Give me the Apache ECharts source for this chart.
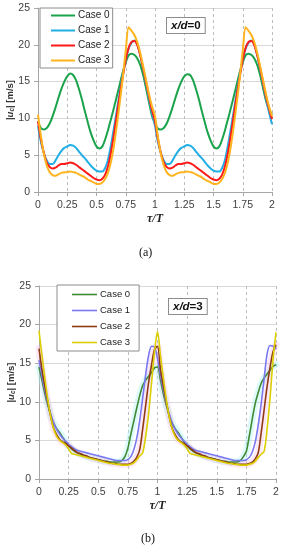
<!DOCTYPE html>
<html><head><meta charset="utf-8">
<script src="https://cdn.jsdelivr.net/npm/echarts@6/dist/echarts.min.js"></script>
<style>html,body{margin:0;padding:0;background:#fff;width:282px;height:550px;overflow:hidden}
#ca{position:absolute;left:0;top:0;width:282px;height:275px}
#cb{position:absolute;left:0;top:275px;width:282px;height:275px}</style>
</head><body><div id="ca"></div><div id="cb"></div>
<script>
// sampling grid tau/T
var tau = [0,0.025,0.05,0.075,0.1,0.125,0.15,0.175,0.2,0.225,0.25,0.275,0.3,0.325,0.35,0.375,0.4,0.425,0.45,0.475,0.5,0.525,0.55,0.575,0.6,0.625,0.65,0.675,0.7,0.725,0.75,0.775,0.8,0.825,0.85,0.875,0.9,0.925,0.95,0.975,1.0,
1.025,1.05,1.075,1.1,1.125,1.15,1.175,1.2,1.225,1.25,1.275,1.3,1.325,1.35,1.375,1.4,1.425,1.45,1.475,1.5,1.525,1.55,1.575,1.6,1.625,1.65,1.675,1.7,1.725,1.75,1.775,1.8,1.825,1.85,1.875,1.9,1.925,1.95,1.975,2.0];
var xTicks = [0,0.25,0.5,0.75,1,1.25,1.5,1.75,2];
var yTicksA = [0,5,10,15,20,25];
var yTicksB = [0,5,10,15,20,25];
var caseNames = ['Case 0','Case 1','Case 2','Case 3'];

// (a) x/d=0
var a_case0 = [9.6,8.7,8.5,8.7,9.3,10.3,11.5,12.8,14.0,15.0,15.7,16.1,15.9,15.2,14.0,12.6,11.0,9.5,8.1,7.0,6.2,5.9,6.2,7.2,8.5,10.0,11.5,13.1,14.7,16.3,17.6,18.6,18.8,18.6,18.1,17.2,15.8,14.0,12.1,10.3,9.3,
8.6,8.5,8.7,9.3,10.3,11.5,12.8,14.0,15.0,15.7,16.0,15.9,15.2,14.0,12.6,11.0,9.5,8.1,7.0,6.2,5.9,6.2,7.2,8.5,10.0,11.5,13.1,14.7,16.3,17.6,18.6,18.8,18.6,18.1,17.2,15.8,14.0,12.3,11.2,10.5];
var a_case1 = [9.0,6.8,5.3,4.3,3.8,3.8,4.3,5.0,5.6,6.0,6.2,6.4,6.3,6.0,5.5,5.0,4.6,4.1,3.6,3.2,2.9,2.8,2.8,3.3,4.5,6.5,8.8,11.2,13.6,16.0,18.0,19.5,20.3,20.6,20.0,18.5,16.6,14.6,12.6,10.7,9.0,
6.8,5.3,4.3,3.8,3.8,4.3,5.0,5.6,6.0,6.2,6.4,6.3,6.0,5.5,5.0,4.6,4.1,3.6,3.2,2.9,2.8,2.8,3.3,4.5,6.5,8.8,11.2,13.6,16.0,18.0,19.5,20.3,20.6,20.0,18.5,16.6,14.6,12.6,10.8,9.2];
var a_case2 = [9.6,7.2,5.3,4.0,3.4,3.2,3.3,3.6,3.8,3.8,3.9,4.0,3.9,3.7,3.4,3.1,2.8,2.5,2.2,1.9,1.7,1.6,1.8,2.4,3.6,5.5,7.9,10.6,13.3,15.7,18.0,19.6,20.4,20.5,19.9,18.5,16.7,14.8,12.9,11.1,9.6,
7.2,5.3,4.0,3.4,3.2,3.3,3.6,3.8,3.8,3.9,4.0,3.9,3.7,3.4,3.1,2.8,2.5,2.2,1.9,1.7,1.6,1.8,2.4,3.6,5.5,7.9,10.6,13.3,15.7,18.0,19.6,20.4,20.5,19.9,18.5,16.7,14.8,12.9,11.3,9.9];
var a_case3 = [10.5,7.6,5.2,3.6,2.7,2.3,2.2,2.4,2.6,2.7,2.7,2.8,2.7,2.6,2.4,2.2,2.0,1.7,1.5,1.3,1.1,1.1,1.3,1.8,2.7,4.2,6.4,9.2,12.3,15.6,19.2,22.4,21.9,21.3,20.3,18.8,17.0,15.1,13.2,11.6,10.3,
7.5,5.2,3.6,2.7,2.3,2.2,2.4,2.6,2.7,2.7,2.8,2.7,2.6,2.4,2.2,2.0,1.7,1.5,1.3,1.1,1.1,1.3,1.8,2.7,4.2,6.4,9.2,12.3,15.6,19.2,22.4,21.9,21.3,20.3,18.8,17.0,15.1,13.2,11.6,10.3];

// (b) x/d=3
var b_case0 = [14.5,12.8,11.0,9.5,8.2,7.2,6.5,6.0,5.4,4.8,4.3,3.9,3.6,3.4,3.2,3.0,2.9,2.8,2.7,2.6,2.5,2.4,2.3,2.3,2.2,2.2,2.2,2.2,2.4,2.9,4.0,5.8,7.5,9.2,10.8,12.1,12.8,13.3,13.8,14.4,14.5,
12.8,11.0,9.5,8.2,7.2,6.5,6.0,5.4,4.8,4.3,3.9,3.6,3.4,3.2,3.0,2.9,2.8,2.7,2.6,2.5,2.4,2.3,2.3,2.2,2.2,2.2,2.2,2.4,2.9,3.6,5.6,7.8,9.8,11.2,12.4,13.1,13.6,14.1,14.6,14.8];
var b_case1 = [15.4,13.4,11.5,9.8,8.4,7.2,6.4,5.8,5.3,4.9,4.5,4.2,3.9,3.7,3.6,3.5,3.4,3.3,3.2,3.1,3.0,2.9,2.8,2.7,2.6,2.5,2.4,2.4,2.4,2.4,2.5,2.9,3.8,5.3,7.6,10.5,13.5,16.0,17.2,17.1,15.6,
13.4,11.5,9.8,8.4,7.2,6.4,5.8,5.3,4.9,4.5,4.2,3.9,3.7,3.6,3.5,3.4,3.3,3.2,3.1,3.0,2.9,2.8,2.7,2.6,2.5,2.4,2.4,2.4,2.4,2.5,2.8,3.5,4.8,7.0,9.8,13.0,16.2,17.3,17.2,16.8];
var b_case2 = [16.9,14.2,12.0,10.0,8.0,6.5,5.7,5.1,4.8,4.6,4.3,4.0,3.7,3.4,3.3,3.1,3.0,2.8,2.7,2.6,2.5,2.4,2.3,2.2,2.1,2.0,2.0,1.9,1.9,1.9,1.9,2.0,2.3,2.8,3.8,6.5,9.5,12.5,14.8,16.8,17.2,
14.2,12.0,10.0,8.0,6.5,5.7,5.1,4.8,4.6,4.3,4.0,3.7,3.4,3.3,3.1,3.0,2.8,2.7,2.6,2.5,2.4,2.3,2.2,2.1,2.0,2.0,1.9,1.9,1.9,1.9,2.0,2.2,2.6,3.4,6.0,9.0,12.0,14.5,16.5,17.4];
var b_case3 = [19.2,16.0,13.0,10.2,8.0,6.4,5.5,5.0,4.7,4.4,3.9,3.3,3.2,3.1,3.0,2.9,2.8,2.7,2.6,2.5,2.4,2.3,2.2,2.1,2.0,2.0,1.9,1.9,1.8,1.8,1.8,1.9,2.1,2.5,3.0,3.4,5.5,8.5,12.5,16.5,19.1,
16.0,13.0,10.2,8.0,6.4,5.5,5.0,4.7,4.4,3.9,3.3,3.2,3.1,3.0,2.9,2.8,2.7,2.6,2.5,2.4,2.3,2.2,2.1,2.0,2.0,1.9,1.9,1.8,1.8,1.8,1.9,2.0,2.3,2.8,3.2,3.6,6.5,10.5,15.5,19.0];

var colorsA = ['#1aa34a','#21aee5','#ff1a1a','#ffb41f'];
var colorsB = ['#3f8a34','#7a78f0','#8e3a14','#dccf00'];
var bandColorsB = ['rgba(160,240,240,0.35)','rgba(250,190,225,0.35)'];

function pairs(v){ return v.map(function(y,i){ return [tau[i], y]; }); }

function makeOption(cfg){
  var series = [];
  (cfg.bands || []).forEach(function(b){
    series.push({type:'line', data: pairs(b.d), showSymbol:false, smooth:0.3, silent:true,
      lineStyle:{color:b.c, width:7, cap:'round', join:'round'}, z:1, legendHoverLink:false});
  });
  cfg.data.forEach(function(d,i){
    series.push({name: caseNames[i], type:'line', data: pairs(d), showSymbol:false, smooth:0.3,
      lineStyle:{color: cfg.colors[i], width: cfg.lw}, itemStyle:{color: cfg.colors[i]}, z: 3+i, silent:true});
  });
  return {
    animation:false,
    grid:{left:cfg.grid.left, right:cfg.grid.right, top:cfg.grid.top, height:cfg.grid.height, containLabel:false, outerBoundsMode:'none'},
    xAxis:{type:'value', min:0, max:2, interval:0.25,
      name:'τ/T', nameLocation:'middle', nameGap:21, nameMoveOverlap:false,
      nameTextStyle:{fontFamily:'Liberation Serif', fontStyle:'italic', fontWeight:'bold', fontSize:12, color:'#222'},
      axisLine:{show:true, lineStyle:{color:'#a6a6a6'}},
      axisTick:{show:true, length:4, lineStyle:{color:'#a6a6a6'}},
      axisLabel:{fontFamily:'Liberation Sans', fontSize:10.5, color:'#404040', margin:8, hideOverlap:false,
        formatter:function(v){ return xTicks.indexOf(v)>=0 ? String(v) : ''; }},
      splitLine:{show:true, lineStyle:{color:'#bdbdbd', type:[3,3], width:1}}},
    yAxis:{type:'value', min:0, max:25, interval:5,
      name:'{p||}{u|u}{s|c}{p|| [m/s]}', nameLocation:'middle', nameGap:cfg.yNameGap, nameRotate:90, nameMoveOverlap:false,
      nameTextStyle:{rich:{
        p:{fontFamily:'Liberation Sans', fontWeight:'bold', fontSize:9.5, color:'#333'},
        u:{fontFamily:'Liberation Sans', fontWeight:'bold', fontStyle:'italic', fontSize:9.5, color:'#333'},
        s:{fontFamily:'Liberation Sans', fontWeight:'bold', fontStyle:'italic', fontSize:6.5, color:'#333', verticalAlign:'bottom', padding:[4,0,0,0]}}},
      axisLine:{show:true, lineStyle:{color:'#a6a6a6'}},
      axisTick:{show:true, length:4, lineStyle:{color:'#a6a6a6'}},
      axisLabel:{fontFamily:'Liberation Sans', fontSize:10.5, color:'#404040', margin:8},
      splitLine:{show:true, lineStyle:{color:'#d9d9d9', width:1}}},
    legend:{data:caseNames, orient:'vertical', left:cfg.legend.left, top:cfg.legend.top,
      icon:'rect', itemWidth:cfg.legend.iw, itemHeight:cfg.lw, itemGap:cfg.legend.gap,
      padding:cfg.legend.pad, backgroundColor:'#fff', borderColor:'#8c8c8c', borderWidth:1, borderRadius:0,
      selectedMode:false,
      textStyle:{fontFamily:'Liberation Sans', fontSize:cfg.legend.fs, color:'#222', lineHeight:13, padding:[0,0,0,-2]}},
    graphic:[
      {type:'text', left:cfg.box.x, top:cfg.box.y, z:10,
        style:{text:'{i|x/d}{n|='+cfg.box.val+'}', rich:{
          i:{fontFamily:'Liberation Sans', fontStyle:'italic', fontWeight:'bold', fontSize:11.5, fill:'#111'},
          n:{fontFamily:'Liberation Sans', fontWeight:'bold', fontSize:11.5, fill:'#111'}},
          backgroundColor:'#fff', borderColor:'#8c8c8c', borderWidth:1, padding:[2,4,1,4]}},
      {type:'text', left:cfg.cap.x, top:cfg.cap.y,
        style:{text:cfg.cap.t, fontFamily:'Liberation Serif', fontSize:12, fill:'#111'}}
    ],
    series: series
  };
}

var ca = echarts.init(document.getElementById('ca'), null, {renderer:'canvas'});
ca.setOption(makeOption({
  data:[a_case0,a_case1,a_case2,a_case3], colors:colorsA, lw:2,
  grid:{left:38, right:10, top:8, height:184}, yNameGap:22,
  legend:{left:40, top:8, iw:24, gap:2, pad:[1,3,1,11], fs:10},
  box:{x:166, y:17, val:'0'},
  cap:{x:139, y:247, t:'(a)'}
}));
var cb = echarts.init(document.getElementById('cb'), null, {renderer:'canvas'});
cb.setOption(makeOption({
  data:[b_case0,b_case1,b_case2,b_case3], colors:colorsB, lw:1.6,
  bands:[{d:b_case0, c:bandColorsB[0]},{d:b_case2, c:bandColorsB[1]}],
  grid:{left:39, right:6, top:11, height:193}, yNameGap:22,
  legend:{left:57, top:10, iw:25, gap:3, pad:[3,9,2,15], fs:9.5},
  box:{x:168, y:23, val:'3'},
  cap:{x:141, y:258, t:'(b)'}
}));
</script></body></html>
